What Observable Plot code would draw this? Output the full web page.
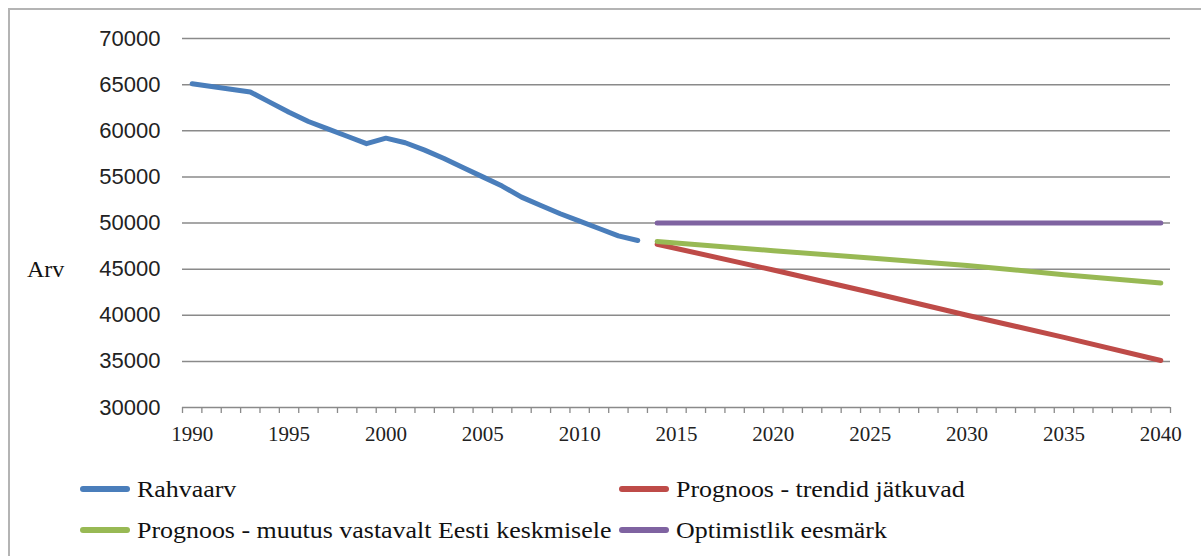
<!DOCTYPE html>
<html>
<head>
<meta charset="utf-8">
<script src="https://cdn.jsdelivr.net/npm/d3@7"></script>
<script src="https://cdn.jsdelivr.net/npm/@observablehq/plot@0.6"></script>
<style>
  html, body { margin: 0; padding: 0; background: #fff; overflow: hidden; }
  #wrap { position: relative; width: 1201px; height: 556px; overflow: hidden; }
  #frame { position: absolute; left: 8px; top: 8px; width: 1210px; height: 570px; border: 2px solid #b4b4b4; box-sizing: border-box; }
  #chart { position: absolute; left: 0; top: 0; }
  .serif { font-family: "Liberation Serif", "Times New Roman", Times, "DejaVu Serif", serif; }
  .ylab { position: absolute; left: 27px; top: 256px; font-size: 24px; color: #111; }
  .leg { position: absolute; font-size: 24px; color: #111; display: flex; align-items: center; white-space: nowrap; }
  .leg span { display: inline-block; transform: scaleX(1.08); transform-origin: left center; }
  .sw { width: 50px; height: 6px; border-radius: 3px; margin-right: 7px; }
</style>
</head>
<body>
<div id="wrap">
  <div id="frame"></div>
  <div id="chart"></div>
  <div class="ylab serif">Arv</div>
  <div id="legend"></div>
</div>
<script>
// Data
const histYears = [1990,1991,1992,1993,1994,1995,1996,1997,1998,1999,2000,2001,2002,2003,2004,2005,2006,2007,2008,2009,2010,2011,2012,2013];
const rahvaarv = [65100,64800,64500,64200,63100,62000,61000,60200,59400,58600,59200,58700,57900,57000,56000,55000,54000,52800,51900,51000,50200,49400,48600,48100];

const forecastYears = [2014,2020,2025,2030,2035,2040];
const trendid = [47700,44900,42500,40000,37600,35100];
const eestiKeskmine = [48000,47000,46200,45400,44400,43500];
const optimistlik = [50000,50000,50000,50000,50000,50000];

const seriesNames = ["Rahvaarv","Prognoos - trendid jätkuvad","Prognoos - muutus vastavalt Eesti keskmisele","Optimistlik eesmärk"];
const seriesColors = ["#4a7ebb","#be4b48","#98b954","#7f63a1"];

const yTicks = [30000,35000,40000,45000,50000,55000,60000,65000,70000];
const xLabelTicks = [1990,1995,2000,2005,2010,2015,2020,2025,2030,2035,2040];

// Build tables
const hist = histYears.map((y,i) => ({year: y, value: rahvaarv[i]}));
const mk = arr => forecastYears.map((y,i) => ({year: y, value: arr[i]}));
const seriesData = [hist, mk(trendid), mk(eestiKeskmine), mk(optimistlik)];
const boundaries = d3.range(histYears[0] - 0.5, 2040.5 + 0.01, 1);

const SERIF = "'Liberation Serif', 'Times New Roman', Times, 'DejaVu Serif', serif";
const H = 460;
const chart = Plot.plot({
  width: 1201,
  height: H,
  marginLeft: 182,
  marginRight: 31,
  marginTop: 38,
  marginBottom: H - 407,
  x: {domain: [1989.5, 2040.5]},
  y: {domain: [30000, 70000]},
  style: {background: "transparent"},
  marks: [
    Plot.ruleY(yTicks, {stroke: "#8a8a8a", strokeWidth: 1.5}),
    Plot.axisX({ticks: boundaries, tickSize: 6, tickFormat: () => "", stroke: "#8a8a8a", strokeWidth: 1.3, label: null}),
    Plot.axisX({ticks: xLabelTicks, tickSize: 0, tickPadding: 19, tickFormat: d => String(d), fontSize: 21, fontFamily: SERIF, fill: "#222", label: null}),
    Plot.axisY({ticks: yTicks, tickSize: 0, tickPadding: 22, tickFormat: d => String(d), fontSize: 22, fontFamily: "'Liberation Sans', Arial, sans-serif", fill: "#222", label: null}),
    ...seriesData.map((data, i) => Plot.line(data, {x: "year", y: "value", stroke: seriesColors[i], strokeWidth: 5, strokeLinecap: "round", strokeLinejoin: "round"}))
  ]
});
document.getElementById("chart").appendChild(chart);

// Legend
const pos = [[80, 489], [619, 489], [80, 530], [619, 530]];
const legend = document.getElementById("legend");
seriesNames.forEach((name, i) => {
  const d = document.createElement("div");
  d.className = "leg serif";
  d.style.left = pos[i][0] + "px";
  d.style.top = (pos[i][1] - 15) + "px";
  d.style.height = "30px";
  const sw = document.createElement("div");
  sw.className = "sw";
  sw.style.background = seriesColors[i];
  const t = document.createElement("span");
  t.textContent = name;
  d.appendChild(sw);
  d.appendChild(t);
  legend.appendChild(d);
});
</script>
</body>
</html>
